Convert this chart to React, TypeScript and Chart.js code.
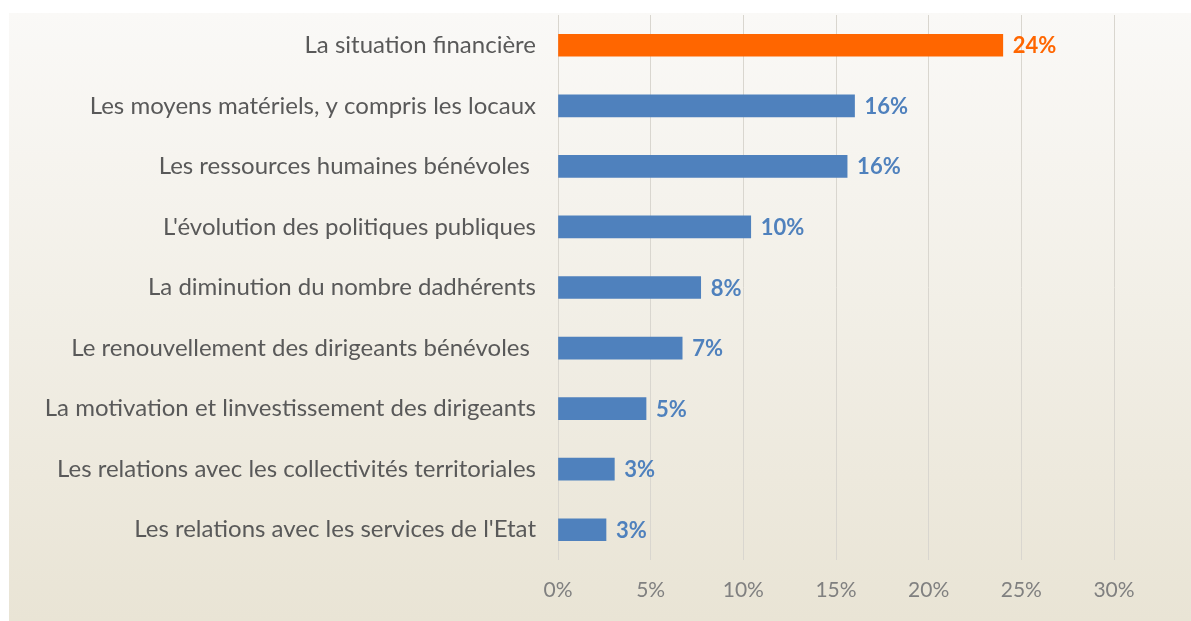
import React, { useEffect, useRef } from "react";
import { Chart, registerables } from "chart.js";

Chart.register(...registerables);

const categories = [
  "La situation financière",
  "Les moyens matériels, y compris les locaux",
  "Les ressources humaines bénévoles ",
  "L'évolution des politiques publiques",
  "La diminution du nombre dadhérents",
  "Le renouvellement des dirigeants bénévoles ",
  "La motivation et linvestissement des dirigeants",
  "Les relations avec les collectivités territoriales",
  "Les relations avec les services de l'Etat",
];
const values = [24.0, 16.0, 15.6, 10.4, 7.7, 6.7, 4.75, 3.04, 2.59];
const barColors = [
  "#FF6600",
  "#4F81BD",
  "#4F81BD",
  "#4F81BD",
  "#4F81BD",
  "#4F81BD",
  "#4F81BD",
  "#4F81BD",
  "#4F81BD",
];
const xTicks = [0, 5, 10, 15, 20, 25, 30];

const FONT = "'Lato', 'DejaVu Sans', sans-serif";

const valueLabels = {
  id: "valueLabels",
  afterDatasetsDraw(chart: any) {
    const ctx = chart.ctx;
    const meta = chart.getDatasetMeta(0);
    ctx.save();
    ctx.font = `bold 22px ${FONT}`;
    ctx.textBaseline = "middle";
    ctx.textAlign = "left";
    meta.data.forEach((bar: any, i: number) => {
      ctx.fillStyle = barColors[i];
      ctx.fillText(Math.round(values[i]) + "%", bar.x + 10, bar.y + 1);
    });
    ctx.restore();
  },
};

export default function App() {
  const ref = useRef<HTMLCanvasElement>(null);
  useEffect(() => {
    if (!ref.current) return;
    const chart = new Chart(ref.current, {
      type: "bar",
      data: {
        labels: categories,
        datasets: [
          {
            data: values,
            backgroundColor: barColors,
            borderWidth: 0,
            barThickness: 22,
          },
        ],
      },
      options: {
        indexAxis: "y",
        animation: false,
        responsive: false,
        maintainAspectRatio: false,
        layout: { padding: { top: 2, right: 77, left: 0, bottom: 0 } },
        plugins: {
          legend: { display: false },
          tooltip: { enabled: false },
        },
        scales: {
          x: {
            min: 0,
            max: 30,
            afterBuildTicks(scale: any) {
              scale.ticks = xTicks.map((v) => ({ value: v }));
            },
            afterFit(scale: any) {
              scale.height = 61;
            },
            grid: { color: "#d9d6cf", drawTicks: false, lineWidth: 1 },
            border: { display: false },
            ticks: {
              padding: 18,
              color: "#808080",
              font: { family: FONT, size: 21 },
              callback: (v: any) => v + "%",
            },
          },
          y: {
            afterFit(scale: any) {
              scale.width = 549;
              scale.paddingTop = 0;
              scale.paddingBottom = 0;
            },
            grid: { display: false, drawTicks: false },
            border: { display: false },
            ticks: {
              padding: 22,
              color: "#595959",
              font: { family: FONT, size: 24 },
              autoSkip: false,
            },
          },
        },
      },
      plugins: [valueLabels],
    });
    return () => chart.destroy();
  }, []);
  return (
    <div
      style={{
        position: "fixed",
        left: 9,
        top: 13,
        width: 1182,
        height: 608,
        background: "linear-gradient(#faf9f7, #e9e4d5)",
      }}
    >
      <canvas ref={ref} width={1182} height={608} style={{ display: "block" }} />
    </div>
  );
}
